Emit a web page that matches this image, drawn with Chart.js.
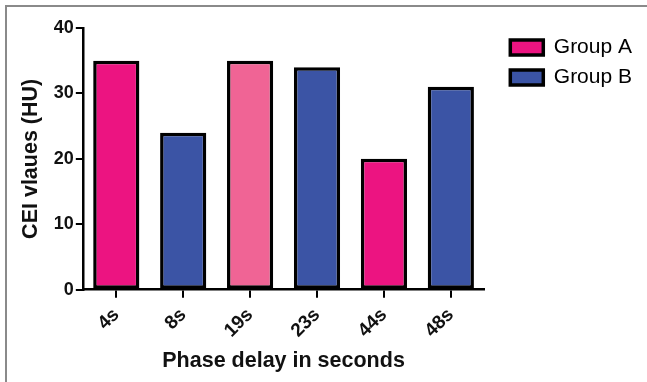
<!DOCTYPE html>
<html>
<head>
<meta charset="utf-8">
<script src="https://cdn.jsdelivr.net/npm/chart.js@4/dist/chart.umd.min.js"></script>
<style>
  html, body { margin: 0; padding: 0; background: #fff; }
  #wrap { position: relative; width: 647px; height: 382px; }
  #frame { position: absolute; left: 5px; top: 5px; right: 0; bottom: 0;
           border-top: 2px solid #8a8a8a; border-left: 2px solid #8a8a8a; pointer-events: none; }
</style>
</head>
<body>
<div id="wrap">
  <canvas id="chart" width="647" height="382"></canvas>
  <div id="frame"></div>
</div>
<script>
// Datos del gráfico
const categories = ['4s', '8s', '19s', '23s', '44s', '48s'];
const groupA = [35, null, 35, null, 20, null];
const groupB = [null, 24, null, 34, null, 31];
const yTicks = [0, 10, 20, 30, 40];

// Colores
const pinkA = '#EC1481';
const pinkLight = '#F06495';
const blueB = '#3B54A5';
const colorsA = [pinkA, pinkA, pinkLight, pinkA, pinkA, pinkA];

const font = 'Liberation Sans, Arial, sans-serif';

// Desplazar la leyenda: hueco fijo entre el eje y las cajas
const legendGap = {
    id: 'legendGap',
    afterLayout(chart) {
        const lg = chart.legend;
        if (lg) {
            const shift = chart.chartArea.right + 26 - lg.options.labels.padding - lg.left;
            lg.left += shift;
            lg.right += shift;
        }
    }
};

new Chart(document.getElementById('chart'), {
    type: 'bar',
    data: {
        labels: categories,
        datasets: [
            {
                label: 'Group A',
                data: groupA,
                backgroundColor: colorsA,
                borderColor: '#000',
                borderWidth: 3.5,
                borderSkipped: false,
                grouped: false,
                barPercentage: 0.69,
                categoryPercentage: 1
            },
            {
                label: 'Group B',
                data: groupB,
                backgroundColor: blueB,
                borderColor: '#000',
                borderWidth: 3.5,
                borderSkipped: false,
                grouped: false,
                barPercentage: 0.69,
                categoryPercentage: 1
            }
        ]
    },
    options: {
        responsive: false,
        animation: false,
        layout: { padding: { left: 14, top: 28, right: 22, bottom: 4 } },
        plugins: {
            tooltip: { enabled: false },
            legend: {
                position: 'right',
                align: 'start',
                labels: {
                    color: '#111',
                    font: { family: font, size: 21 },
                    boxWidth: 33,
                    boxHeight: 15,
                    padding: 9,
                    generateLabels: (chart) => chart.data.datasets.map((ds, i) => ({
                        text: ds.label,
                        fillStyle: i === 0 ? pinkA : blueB,
                        strokeStyle: '#000',
                        lineWidth: 3.5,
                        datasetIndex: i
                    }))
                }
            }
        },
        scales: {
            x: {
                offset: true,
                grid: { display: true, drawOnChartArea: false, drawTicks: true, offset: false,
                        tickLength: 8, color: '#000', lineWidth: 2 },
                border: { color: '#000', width: 2.5 },
                ticks: {
                    color: '#111', maxRotation: 45, minRotation: 45, padding: 6,
                    font: { family: font, size: 19, weight: 'bold' }
                },
                title: {
                    display: true, text: 'Phase delay in seconds', color: '#111', padding: { top: 0 },
                    font: { family: font, size: 21.5, weight: 'bold' }
                }
            },
            y: {
                min: 0, max: 40,
                afterBuildTicks: (axis) => { axis.ticks = yTicks.map(v => ({ value: v })); },
                grid: { display: true, drawOnChartArea: false, drawTicks: true,
                        tickLength: 7, color: '#000', lineWidth: 2 },
                border: { color: '#000', width: 2.5 },
                ticks: {
                    color: '#111', padding: 2,
                    font: { family: font, size: 18, weight: 'bold' }
                },
                title: {
                    display: true, text: 'CEI vlaues (HU)', color: '#111', padding: { bottom: 8 },
                    font: { family: font, size: 21.5, weight: 'bold' }
                }
            }
        }
    },
    plugins: [legendGap]
});
</script>
</body>
</html>
